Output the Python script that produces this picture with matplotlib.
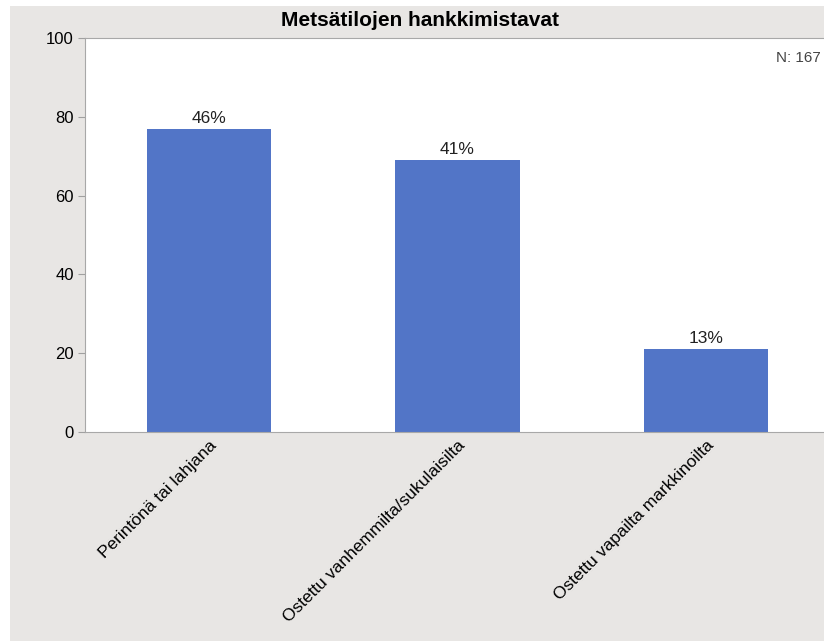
import matplotlib
matplotlib.use('Agg')
import matplotlib.pyplot as plt
from matplotlib.patches import Rectangle

categories = ['Perintönä tai lahjana', 'Ostettu vanhemmilta/sukulaisilta', 'Ostettu vapailta markkinoilta']
counts = [77, 69, 21]
pct_labels = ['46%', '41%', '13%']
n_total = 167

plt.rcParams['font.family'] = ['Liberation Sans', 'DejaVu Sans']

fig = plt.figure(figsize=(8.24, 6.41), dpi=100, facecolor='white')
# harmaa tausta (vasen ja ylä reuna valkoinen)
fig.patches.append(Rectangle((10 / 824, 0), 1, 1 - 6 / 641, transform=fig.transFigure,
                             facecolor='#e8e6e4', edgecolor='none', zorder=-10))

ax = fig.add_axes([85 / 824, 209 / 641, 745 / 824, 394 / 641])
ax.set_zorder(1)
ax.set_facecolor('white')
x = range(len(categories))
bars = ax.bar(x, counts, width=0.5, color='#5275c7', zorder=2)
for b, lab in zip(bars, pct_labels):
    ax.annotate(lab, (b.get_x() + b.get_width() / 2, b.get_height()), xytext=(0, 2),
                textcoords='offset points', ha='center', va='bottom', fontsize=12.5, color='#222222')

ax.set_xlim(-0.5, 2.5)
ax.set_ylim(0, 100)
ax.set_yticks([0, 20, 40, 60, 80, 100])
ax.set_xticks(list(x))
ax.set_xticklabels(categories, rotation=45, ha='right', va='top', rotation_mode='anchor', fontsize=12.5)
ax.tick_params(axis='x', length=0, pad=4)
ax.tick_params(axis='y', length=5, color='#a0a0a0', labelsize=12, pad=3)
for s in ['left', 'top', 'bottom']:
    ax.spines[s].set_color('#a8a8a8')
ax.spines['right'].set_visible(False)

fig.text(776 / 824, 1 - 58 / 641, 'N: %d' % n_total, fontsize=11,
         color='#444444', va='center', ha='left', zorder=5)
fig.text(420 / 824, 1 - 21 / 641, 'Metsätilojen hankkimistavat', fontsize=15, fontweight='bold',
         ha='center', va='center')

fig.savefig('out.png', dpi=100)
